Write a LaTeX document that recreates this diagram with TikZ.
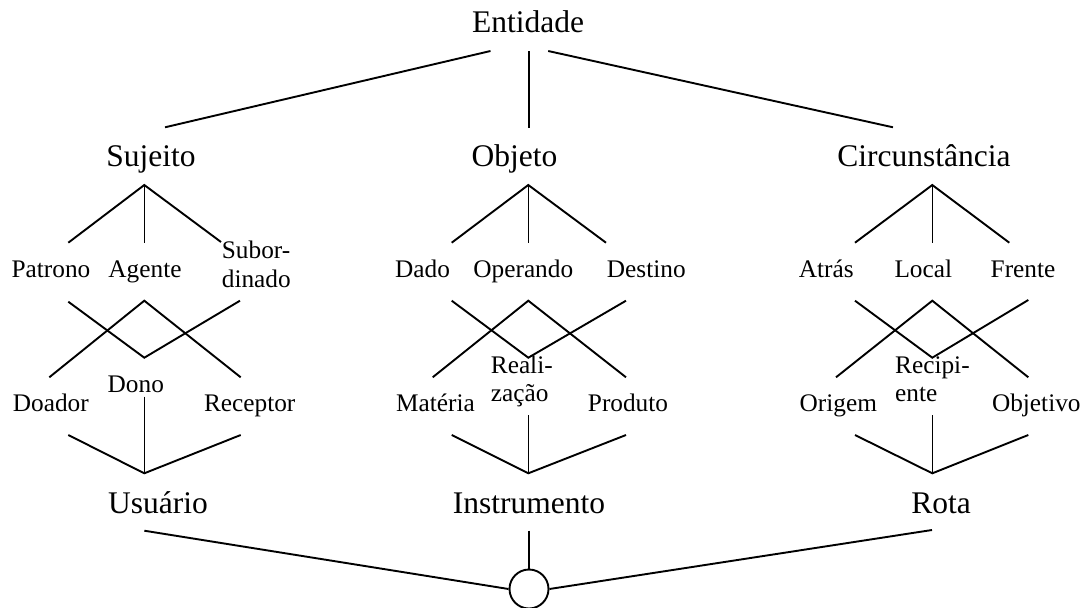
\documentclass[tikz,border=0pt]{standalone}
\usepackage{fontspec}
\setmainfont{Liberation Serif}
\begin{document}
\begin{tikzpicture}[x=1pt,y=-1pt,
  big/.style={font=\fontsize{31.5}{36}\selectfont, inner sep=0pt, anchor=base},
  small/.style={font=\fontsize{25.3}{29}\selectfont, inner sep=0pt, anchor=base},
  twoline/.style={font=\fontsize{25.3}{28.5}\selectfont, inner sep=0pt, anchor=base west, align=left},
  edge/.style={line width=1.9pt, line join=miter},
  vedge/.style={line width=1.6pt}]
\useasboundingbox (0,0) rectangle (1088,608);

% ---- labels
\node[big] (ent) at (528,32.3) {Entidade};
\node[big] (suj) at (151,166.7) {Sujeito};
\node[big] (obj) at (514.5,166.7) {Objeto};
\node[big] (cir) at (924,166.7) {Circunstância};

\node[small] (pat) at (51,277) {Patrono};
\node[small] (age) at (145,277) {Agente};
\node[twoline] (sub) at (221.7,287.3) {Subor-\\dinado};
\node[small] (doa) at (50.8,411.7) {Doador};
\node[small] (don) at (135.8,392.7) {Dono};
\node[small] (rec) at (249.7,411.7) {Receptor};

\node[small] (dad) at (422.5,277) {Dado};
\node[small] (ope) at (523.3,277) {Operando};
\node[small] (des) at (646.3,277) {Destino};
\node[small] (mat) at (435.5,411.7) {Matéria};
\node[twoline] (rea) at (490.7,401.7) {Reali-\\zação};
\node[small] (pro) at (628,411.7) {Produto};

\node[small] (atr) at (826.2,277) {Atrás};
\node[small] (loc) at (923.3,277) {Local};
\node[small] (fre) at (1023,277) {Frente};
\node[small] (ori) at (838.3,411.7) {Origem};
\node[twoline] (rcp) at (895,401.7) {Recipi-\\ente};
\node[small] (obv) at (1036.3,411.7) {Objetivo};

\node[big] (usu) at (158,513.3) {Usuário};
\node[big] (ins) at (529,513.3) {Instrumento};
\node[big] (rot) at (941,513.3) {Rota};

\node[draw, circle, line width=1.9pt, minimum size=39pt, inner sep=0pt] (bot) at (529,589) {};

% ---- top level
\coordinate (e1) at (490.5,51); \coordinate (e2) at (528.8,51); \coordinate (e3) at (548.2,51);
\coordinate (s0) at (165,127.3); \coordinate (o0) at (528.8,127.5); \coordinate (c0) at (893,127.3);
\draw[edge] (e1) -- (s0);
\draw[vedge] (e2) -- (o0);
\draw[edge] (e3) -- (c0);

% left lattice
\coordinate (La) at (144.3,185);
\coordinate (L1) at (68.3,242.7); \coordinate (L2) at (144.3,242.7); \coordinate (L3) at (221,242);
\coordinate (Lv1) at (68.3,301.7); \coordinate (Lv2) at (144.3,357.7); \coordinate (Lv3) at (240,300.7);
\coordinate (Lw1) at (49.3,377.3); \coordinate (Lw2) at (144.3,300.7); \coordinate (Lw3) at (240.7,377.3);
\coordinate (Lb1) at (68.3,435); \coordinate (Lb2) at (144.3,396.7); \coordinate (Lb3) at (240.7,435);
\coordinate (Lz) at (144.3,473.3);
\draw[edge] (L1) -- (La) -- (L3);
\draw[vedge] (La) -- (L2);
\draw[edge] (Lv1) -- (Lv2) -- (Lv3);
\draw[edge] (Lw1) -- (Lw2) -- (Lw3);
\draw[edge] (Lb1) -- (Lz) -- (Lb3);
\draw[vedge] (Lb2) -- (Lz);

% middle lattice
\coordinate (Ma) at (528.3,185);
\coordinate (M1) at (451.7,242.7); \coordinate (M2) at (528.3,242.7); \coordinate (M3) at (606,242.7);
\coordinate (Mv1) at (451.7,300.7); \coordinate (Mv2) at (528.3,357.7); \coordinate (Mv3) at (626,300.7);
\coordinate (Mw1) at (432.7,377.3); \coordinate (Mw2) at (528.3,300.7); \coordinate (Mw3) at (626,377.3);
\coordinate (Mb1) at (451.7,435); \coordinate (Mb2) at (528.3,415); \coordinate (Mb3) at (626,435);
\coordinate (Mz) at (528.3,473.3);
\draw[edge] (M1) -- (Ma) -- (M3);
\draw[vedge] (Ma) -- (M2);
\draw[edge] (Mv1) -- (Mv2) -- (Mv3);
\draw[edge] (Mw1) -- (Mw2) -- (Mw3);
\draw[edge] (Mb1) -- (Mz) -- (Mb3);
\draw[vedge] (Mb2) -- (Mz);

% right lattice
\coordinate (Ra) at (932.3,185);
\coordinate (R1) at (855,242.7); \coordinate (R2) at (932.3,242.7); \coordinate (R3) at (1009.3,242.7);
\coordinate (Rv1) at (855,300.7); \coordinate (Rv2) at (932.3,357.7); \coordinate (Rv3) at (1028.3,300);
\coordinate (Rw1) at (836,377.3); \coordinate (Rw2) at (932.3,300.7); \coordinate (Rw3) at (1028.3,377.3);
\coordinate (Rb1) at (855,435); \coordinate (Rb2) at (932.3,415); \coordinate (Rb3) at (1028.3,435);
\coordinate (Rz) at (932.3,473.3);
\draw[edge] (R1) -- (Ra) -- (R3);
\draw[vedge] (Ra) -- (R2);
\draw[edge] (Rv1) -- (Rv2) -- (Rv3);
\draw[edge] (Rw1) -- (Rw2) -- (Rw3);
\draw[edge] (Rb1) -- (Rz) -- (Rb3);
\draw[vedge] (Rb2) -- (Rz);

% ---- bottom
\coordinate (u0) at (144.3,530.7); \coordinate (i0) at (529,530.7); \coordinate (r0) at (932,530);
\draw[edge] (u0) -- (bot.west);
\draw[vedge] (i0) -- (bot.north);
\draw[edge] (r0) -- (bot.east);
\end{tikzpicture}
\end{document}
